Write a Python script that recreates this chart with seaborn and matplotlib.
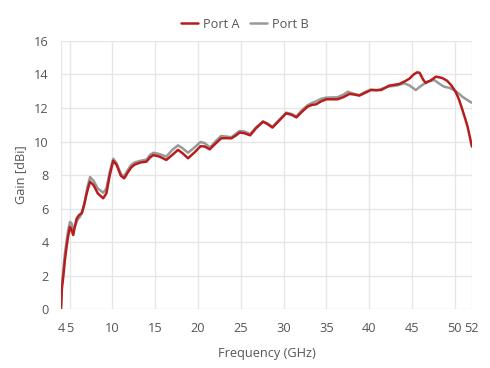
import matplotlib
matplotlib.use("Agg")
import matplotlib.pyplot as plt
import seaborn as sns
import pandas as pd

freq_a = [4.0, 4.1, 4.27, 4.45, 4.66, 4.85, 5.05, 5.2, 5.43, 5.6, 5.83, 6.1, 6.41, 6.7, 7.0, 7.38,
          7.8, 8.3, 8.93, 9.3, 9.7, 10.1, 10.5, 11.0, 11.38, 11.8, 12.2, 12.6, 13.3, 13.99, 14.4,
          14.8, 15.5, 16.3, 17.0, 17.67, 18.2, 18.84, 19.6, 20.3, 20.8, 21.37, 22.0, 22.7, 23.3,
          23.9, 24.4, 24.86, 25.4, 26.1, 26.8, 27.6, 28.1, 28.7, 29.4, 30.3, 30.9, 31.5, 32.1,
          32.8, 33.3, 33.8, 34.4, 35.0, 36.3, 37.0, 37.7, 38.3, 38.85, 39.5, 40.2, 41.4, 42.3,
          43.5, 44.2, 44.7, 45.2, 45.6, 45.9, 46.3, 46.6, 47.2, 47.8, 48.5, 49.1, 49.6, 50.1,
          50.5, 50.9, 51.2, 51.5, 51.75, 52.0]
gain_a = [0.0, 1.2, 1.95, 2.9, 3.75, 4.4, 4.9, 4.75, 4.42, 4.9, 5.4, 5.6, 5.72, 6.2, 6.9, 7.6,
          7.4, 6.9, 6.61, 6.9, 8.0, 8.85, 8.6, 7.95, 7.8, 8.15, 8.45, 8.62, 8.75, 8.8, 9.05,
          9.19, 9.1, 8.9, 9.2, 9.5, 9.3, 9.0, 9.35, 9.72, 9.7, 9.53, 9.85, 10.19, 10.2,
          10.19, 10.35, 10.53, 10.5, 10.37, 10.8, 11.18, 11.05, 10.83, 11.2, 11.68, 11.6, 11.44, 11.75,
          12.08, 12.18, 12.22, 12.4, 12.52, 12.52, 12.65, 12.84, 12.8, 12.74, 12.9, 13.07, 13.07, 13.33,
          13.43, 13.6, 13.75, 14.0, 14.13, 14.1, 13.7, 13.5, 13.65, 13.87, 13.8, 13.63, 13.35, 12.97,
          12.5, 11.88, 11.4, 10.88, 10.3, 9.7]

freq_b = [4.0, 4.1, 4.27, 4.45, 4.66, 4.85, 5.05, 5.25, 5.45, 5.7, 5.9, 6.2, 6.5, 6.8, 7.1, 7.4,
          7.8, 8.3, 8.93, 9.3, 9.7, 10.1, 10.5, 11.0, 11.38, 11.8, 12.2, 12.6, 13.3, 14.0, 14.4,
          14.8, 15.5, 16.3, 17.0, 17.67, 18.2, 18.84, 19.6, 20.3, 20.8, 21.4, 22.0, 22.7, 23.3,
          23.9, 24.4, 24.86, 25.4, 26.1, 26.8, 27.6, 28.1, 28.7, 29.4, 30.3, 30.9, 31.5, 32.1,
          32.8, 33.3, 33.8, 34.4, 35.0, 36.3, 37.0, 37.5, 38.2, 38.85, 39.5, 40.2, 40.9, 41.5,
          42.3, 43.3, 44.1, 44.7, 45.45, 46.0, 46.8, 47.6, 48.2, 48.76, 49.4, 49.9, 50.5, 50.9,
          51.4, 51.95]
gain_b = [0.2, 1.5, 2.3, 3.3, 4.1, 4.75, 5.2, 5.1, 4.7, 5.0, 5.3, 5.5, 5.8, 6.5, 7.3, 7.88,
          7.65, 7.2, 6.94, 7.2, 8.2, 8.97, 8.7, 8.05, 7.92, 8.3, 8.6, 8.75, 8.85, 8.92, 9.2,
          9.33, 9.25, 9.1, 9.5, 9.77, 9.6, 9.33, 9.65, 9.97, 9.9, 9.64, 9.98, 10.33, 10.3,
          10.25, 10.45, 10.63, 10.6, 10.45, 10.85, 11.2, 11.08, 10.88, 11.25, 11.72, 11.65, 11.5, 11.85,
          12.16, 12.3, 12.4, 12.55, 12.62, 12.64, 12.8, 12.97, 12.85, 12.77, 12.95, 13.1, 13.05, 13.15,
          13.28, 13.35, 13.47, 13.35, 13.07, 13.3, 13.57, 13.67, 13.45, 13.27, 13.2, 13.07, 12.85, 12.67,
          12.5, 12.32]

series_names = ["Port A", "Port B"]
x_ticks = [4, 5, 10, 15, 20, 25, 30, 35, 40, 45, 50, 52]
y_ticks = [0, 2, 4, 6, 8, 10, 12, 14, 16]

df = pd.concat([
    pd.DataFrame({"Frequency (GHz)": freq_a, "Gain [dBi]": gain_a, "series": series_names[0]}),
    pd.DataFrame({"Frequency (GHz)": freq_b, "Gain [dBi]": gain_b, "series": series_names[1]}),
], ignore_index=True)

sns.set_theme(style="white")
plt.rcParams["font.family"] = ["Open Sans", "DejaVu Sans"]

text_c = "#555555"
grid_c = "#e6e6e6"
fs = 9.2

fig = plt.figure(figsize=(4.9, 3.68), dpi=100)
ax = fig.add_axes([0.1245, 0.1603, 0.8385, 0.7283])

sns.lineplot(data=df, x="Frequency (GHz)", y="Gain [dBi]", hue="series",
             hue_order=series_names, palette={"Port A": "#b81d1d", "Port B": "#999999"},
             sort=False, estimator=None, linewidth=1.8, ax=ax, legend=True)
ax.lines[0].set_zorder(4)
ax.lines[1].set_zorder(3)

ax.set_xlim(4, 52)
ax.set_ylim(0, 16)
ax.set_xticks(x_ticks)
ax.set_xticklabels([str(t) for t in x_ticks])
ax.set_yticks(y_ticks)
ax.grid(True, color=grid_c, linewidth=1.0)
ax.set_axisbelow(True)
for s in ax.spines.values():
    s.set_visible(False)
ax.tick_params(axis="both", length=7, width=1.0, color=grid_c, labelsize=fs,
               labelcolor=text_c, pad=2)
ax.set_xlabel("Frequency (GHz)", color=text_c, fontsize=fs, labelpad=9)
ax.set_ylabel("Gain [dBi]", color=text_c, fontsize=fs, labelpad=5)

handles, labels = ax.get_legend_handles_labels()
ax.get_legend().remove()
leg = fig.legend(handles, labels, loc="center", bbox_to_anchor=(0.5, 1 - 24 / 368), ncol=2,
                 frameon=False, fontsize=fs, handlelength=1.3, handletextpad=0.4,
                 columnspacing=0.8, borderaxespad=0)
for t in leg.get_texts():
    t.set_color(text_c)
for h in leg.get_lines():
    h.set_linewidth(1.8)

fig.savefig("out.png", dpi=100)
